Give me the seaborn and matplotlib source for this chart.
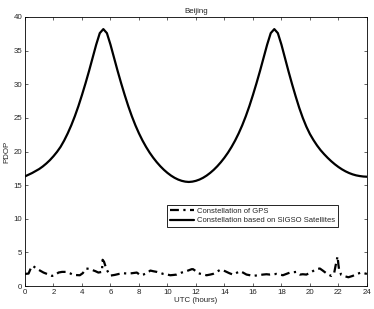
import numpy as np
import pandas as pd
import matplotlib
matplotlib.use("Agg")
import matplotlib.pyplot as plt
import seaborn as sns

# ---- data ----
sigso_h = [0.00, 0.25, 0.50, 0.75, 1.00, 1.25, 1.50, 1.75, 2.00, 2.25, 2.50, 2.75,
           3.00, 3.25, 3.50, 3.75, 4.00, 4.25, 4.50, 4.75, 5.00, 5.25, 5.50, 5.75,
           6.00, 6.25, 6.50, 6.75, 7.00, 7.25, 7.50, 7.75, 8.00, 8.25, 8.50, 8.75,
           9.00, 9.25, 9.50, 9.75, 10.00, 10.25, 10.50, 10.75, 11.00, 11.25, 11.50, 11.75,
           12.00, 12.25, 12.50, 12.75, 13.00, 13.25, 13.50, 13.75, 14.00, 14.25, 14.50, 14.75,
           15.00, 15.25, 15.50, 15.75, 16.00, 16.25, 16.50, 16.75, 17.00, 17.25, 17.50, 17.75,
           18.00, 18.25, 18.50, 18.75, 19.00, 19.25, 19.50, 19.75, 20.00, 20.25, 20.50, 20.75,
           21.00, 21.25, 21.50, 21.75, 22.00, 22.25, 22.50, 22.75, 23.00, 23.25, 23.50, 23.75,
           24.00]
sigso_pdop = [16.3, 16.55, 16.8, 17.1, 17.4, 17.78, 18.22, 18.72, 19.3, 19.95, 20.7, 21.63,
              22.7, 23.9, 25.25, 26.75, 28.4, 30.15, 32.0, 33.95, 35.9, 37.6, 38.2, 37.6,
              35.9, 33.95, 32.0, 30.15, 28.4, 26.75, 25.25, 23.9, 22.7, 21.63, 20.68, 19.83,
              19.08, 18.41, 17.81, 17.28, 16.82, 16.42, 16.09, 15.83, 15.64, 15.52, 15.47, 15.52,
              15.64, 15.83, 16.09, 16.42, 16.82, 17.28, 17.81, 18.41, 19.08, 19.83, 20.68, 21.63,
              22.7, 23.9, 25.25, 26.75, 28.4, 30.15, 32.0, 33.95, 35.9, 37.6, 38.2, 37.6,
              35.9, 33.9, 31.9, 30.0, 28.2, 26.5, 25.0, 23.7, 22.6, 21.7, 20.9, 20.2,
              19.6, 19.05, 18.55, 18.1, 17.7, 17.35, 17.05, 16.8, 16.6, 16.45, 16.35, 16.28,
              16.25]

gps_h = [0.0, 0.25, 0.4, 0.55, 0.8, 1.05, 1.3, 1.6, 1.9, 2.1, 2.35, 2.6, 2.9, 3.15, 3.4,
         3.85, 4.05, 4.3, 4.5, 4.7, 4.95, 5.15, 5.4, 5.45, 5.55, 5.7, 5.85, 6.0, 6.3, 6.6,
         6.9, 7.2, 7.5, 7.85, 8.1, 8.3, 8.55, 8.8, 9.0, 9.25, 9.5, 9.7, 10.0, 10.2, 10.45,
         10.65, 11.0, 11.25, 11.45, 11.7, 11.8, 12.0, 12.15, 12.45, 12.75, 13.0, 13.2, 13.45,
         13.7, 13.9, 14.15, 14.35, 14.6, 14.85, 15.1, 15.3, 15.55, 15.8, 16.0, 16.35, 16.7,
         16.95, 17.2, 17.45, 17.65, 17.9, 18.1, 18.35, 18.6, 18.85, 19.05, 19.3, 19.5, 19.75,
         20.05, 20.35, 20.55, 20.7, 20.9, 21.15, 21.35, 21.5, 21.7, 21.8, 21.94, 22.0, 22.05,
         22.2, 22.45, 22.7, 23.0, 23.3, 23.6, 23.8, 24.0]
gps_pdop = [1.8, 1.85, 2.6, 3.0, 2.6, 2.3, 2.0, 1.75, 1.5, 1.6, 2.0, 2.1, 2.1, 1.9, 1.65,
            1.6, 1.9, 2.6, 2.55, 2.4, 2.2, 2.0, 2.1, 3.9, 3.6, 2.6, 2.0, 1.55, 1.65, 1.8,
            1.9, 1.85, 1.9, 2.0, 1.6, 1.7, 1.9, 2.3, 2.2, 2.1, 1.95, 1.8, 1.7, 1.6, 1.65,
            1.7, 2.0, 2.15, 2.3, 2.5, 2.5, 2.2, 1.9, 1.75, 1.6, 1.7, 1.8, 2.1,
            2.4, 2.35, 2.1, 1.9, 1.7, 1.95, 2.2, 2.0, 1.7, 1.6, 1.5, 1.6, 1.7,
            1.75, 1.7, 1.75, 1.8, 1.7, 1.6, 1.8, 2.0, 2.05, 2.1, 1.7, 1.75, 1.7,
            2.0, 2.4, 2.55, 2.6, 2.3, 1.9, 1.65, 1.5, 1.9, 3.0, 4.4, 3.2, 2.4,
            1.65, 1.45, 1.3, 1.5, 1.8, 2.0, 1.9, 1.8]

x_ticks = list(range(0, 25, 2))
y_ticks = [0, 5, 10, 15, 20, 25, 30, 35, 40]
title = "Beijing"
x_label = "UTC (hours)"
y_label = "PDOP"
label_gps = "Constellation of GPS"
label_sigso = "Constellation based on SIGSO Satellites"

# ---- plotting ----
sns.set_style("ticks")
plt.rcParams["font.family"] = ["Liberation Sans", "DejaVu Sans"]
fs = 5.7
fs_leg = 5.5

fig = plt.figure(figsize=(3.74, 3.09), dpi=100)
ax = fig.add_axes([0.0668, 0.0744, 0.9142, 0.8706])

df_gps = pd.DataFrame({"h": gps_h, "v": gps_pdop})
df_sig = pd.DataFrame({"h": sigso_h, "v": sigso_pdop})

sns.lineplot(data=df_gps, x="h", y="v", ax=ax, color="black", lw=1.6,
             linestyle="-.", label=label_gps, estimator=None, sort=False)
sns.lineplot(data=df_sig, x="h", y="v", ax=ax, color="black", lw=1.6,
             linestyle="-", label=label_sigso, estimator=None, sort=False)
ax.lines[0].set_dashes([4, 2, 1, 2])

ax.set_xlim(0, 24)
ax.set_ylim(0, 40)
ax.set_xticks(x_ticks)
ax.set_yticks(y_ticks)
ax.tick_params(direction="in", top=True, right=True, labelsize=fs,
               length=2.5, width=0.5, pad=2)
for s in ax.spines.values():
    s.set_linewidth(0.6)
    s.set_color("black")
ax.set_title(title, fontsize=fs, pad=3)
ax.set_xlabel(x_label, fontsize=fs, labelpad=1)
ax.set_ylabel(y_label, fontsize=fs, labelpad=2)

leg = ax.legend(loc="lower left", bbox_to_anchor=(0.415, 0.219), fontsize=fs_leg,
                frameon=True, fancybox=False, edgecolor="black", framealpha=1,
                borderpad=0.35, handlelength=3.2, handletextpad=0.4,
                labelspacing=0.3, borderaxespad=0)
leg.get_frame().set_linewidth(0.6)

fig.savefig("out.png", dpi=100)
